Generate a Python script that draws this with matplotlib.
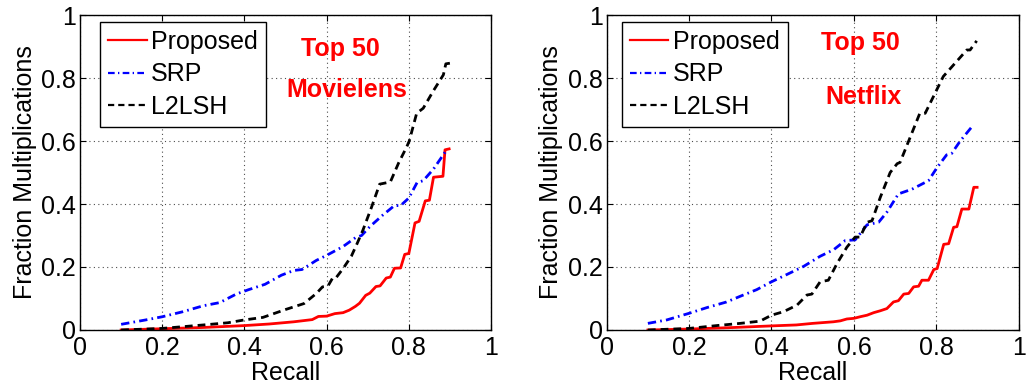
import matplotlib
matplotlib.use("Agg")
import matplotlib.pyplot as plt

plt.rcParams['font.family'] = ['Liberation Sans', 'DejaVu Sans']
plt.rcParams['font.size'] = 18

# ---- Movielens (Top 50) ----
ml_proposed_recall = [0.10, 0.20, 0.30, 0.40, 0.46, 0.52, 0.565, 0.58, 0.60, 0.62,
                      0.64, 0.655, 0.67, 0.68, 0.695, 0.705, 0.72, 0.73, 0.745, 0.755,
                      0.765, 0.78, 0.79, 0.80, 0.815, 0.825, 0.84, 0.85, 0.86, 0.875,
                      0.883, 0.888, 0.898]
ml_proposed_frac = [0.000, 0.004, 0.008, 0.014, 0.019, 0.026, 0.033, 0.043, 0.044, 0.052,
                    0.055, 0.063, 0.075, 0.085, 0.110, 0.117, 0.138, 0.140, 0.165, 0.168,
                    0.196, 0.197, 0.240, 0.243, 0.340, 0.345, 0.410, 0.412, 0.485, 0.487,
                    0.488, 0.572, 0.575]

ml_srp_recall = [0.10, 0.16, 0.20, 0.25, 0.30, 0.34, 0.38, 0.41, 0.45, 0.49, 0.52, 0.54,
                 0.575, 0.60, 0.64, 0.67, 0.685, 0.705, 0.735, 0.765, 0.78, 0.80, 0.82,
                 0.835, 0.86, 0.89]
ml_srp_frac = [0.018, 0.032, 0.042, 0.058, 0.077, 0.087, 0.114, 0.128, 0.145, 0.174, 0.189,
               0.192, 0.221, 0.237, 0.265, 0.293, 0.300, 0.328, 0.363, 0.395, 0.395, 0.419,
               0.468, 0.474, 0.511, 0.568]

ml_l2lsh_recall = [0.10, 0.20, 0.30, 0.36, 0.40, 0.445, 0.50, 0.545, 0.575, 0.59, 0.603,
                   0.615, 0.623, 0.64, 0.66, 0.674, 0.688, 0.709, 0.729, 0.755, 0.775,
                   0.795, 0.801, 0.819, 0.835, 0.86, 0.884, 0.89, 0.90]
ml_l2lsh_frac = [0.000, 0.005, 0.016, 0.023, 0.032, 0.040, 0.065, 0.084, 0.116, 0.137,
                 0.139, 0.166, 0.166, 0.195, 0.234, 0.274, 0.316, 0.389, 0.463, 0.470,
                 0.530, 0.582, 0.600, 0.688, 0.704, 0.760, 0.810, 0.845, 0.847]

# ---- Netflix (Top 50) ----
nf_proposed_recall = [0.10, 0.20, 0.31, 0.40, 0.46, 0.50, 0.55, 0.567, 0.583, 0.60,
                      0.615, 0.632, 0.648, 0.664, 0.68, 0.696, 0.708, 0.721, 0.733, 0.745,
                      0.757, 0.765, 0.781, 0.794, 0.802, 0.818, 0.830, 0.842, 0.850, 0.862,
                      0.879, 0.891, 0.899]
nf_proposed_frac = [0.000, 0.003, 0.008, 0.013, 0.016, 0.021, 0.026, 0.029, 0.035, 0.037,
                    0.042, 0.047, 0.055, 0.061, 0.068, 0.089, 0.093, 0.114, 0.116, 0.137,
                    0.139, 0.158, 0.158, 0.192, 0.195, 0.272, 0.274, 0.326, 0.328, 0.384,
                    0.384, 0.453, 0.453]

nf_srp_recall = [0.10, 0.146, 0.20, 0.243, 0.291, 0.324, 0.364, 0.40, 0.437, 0.478, 0.518,
                 0.551, 0.579, 0.603, 0.632, 0.66, 0.68, 0.708, 0.741, 0.781, 0.802, 0.825,
                 0.837, 0.858, 0.89]
nf_srp_frac = [0.021, 0.032, 0.053, 0.071, 0.089, 0.107, 0.128, 0.153, 0.176, 0.202, 0.234,
               0.255, 0.284, 0.286, 0.334, 0.342, 0.374, 0.432, 0.447, 0.474, 0.516, 0.556,
               0.560, 0.600, 0.651]

nf_l2lsh_recall = [0.10, 0.20, 0.267, 0.324, 0.372, 0.40, 0.429, 0.462, 0.486, 0.498,
                   0.518, 0.538, 0.559, 0.583, 0.603, 0.615, 0.632, 0.644, 0.664, 0.688,
                   0.705, 0.712, 0.760, 0.773, 0.817, 0.874, 0.882, 0.898]
nf_l2lsh_frac = [0.000, 0.005, 0.014, 0.021, 0.028, 0.047, 0.058, 0.079, 0.111, 0.114,
                 0.153, 0.158, 0.211, 0.263, 0.295, 0.295, 0.342, 0.347, 0.421, 0.500,
                 0.528, 0.532, 0.688, 0.688, 0.805, 0.889, 0.889, 0.918]

series_names = ["Proposed", "SRP", "L2LSH"]
tick_values = [0, 0.2, 0.4, 0.6, 0.8, 1]
tick_labels = ["0", "0.2", "0.4", "0.6", "0.8", "1"]

panels = [
    dict(rect=[0.078, 0.1495, 0.4006, 0.8118],
         data=[(ml_proposed_recall, ml_proposed_frac),
               (ml_srp_recall, ml_srp_frac),
               (ml_l2lsh_recall, ml_l2lsh_frac)],
         legend_anchor=(0.0487, 0.978),
         title_pos=[(0.633, 0.892), (0.649, 0.762)],
         titles=["Top 50", "Movielens"]),
    dict(rect=[0.5913, 0.1495, 0.4016, 0.8118],
         data=[(nf_proposed_recall, nf_proposed_frac),
               (nf_srp_recall, nf_srp_frac),
               (nf_l2lsh_recall, nf_l2lsh_frac)],
         legend_anchor=(0.0364, 0.978),
         title_pos=[(0.615, 0.910), (0.623, 0.741)],
         titles=["Top 50", "Netflix"]),
]

styles = [
    dict(color="#ff0000", linestyle="-", linewidth=2.0),
    dict(color="#0000ff", linestyle=(0, (3.0, 1.5, 0.6, 1.5)), linewidth=2.0),
    dict(color="#000000", linestyle=(0, (2.8, 1.8)), linewidth=2.0),
]

fig = plt.figure(figsize=(10.26, 3.88), dpi=100)

for panel in panels:
    ax = fig.add_axes(panel["rect"])
    for (rx, fy), name, st in zip(panel["data"], series_names, styles):
        ax.plot(rx, fy, label=name, **st)
    ax.set_xlim(0, 1)
    ax.set_ylim(0, 1)
    ax.set_xticks(tick_values)
    ax.set_xticklabels(tick_labels)
    ax.set_yticks(tick_values)
    ax.set_yticklabels(tick_labels)
    ax.tick_params(direction="in", top=True, right=True, length=4, width=0.8,
                   labelsize=18)
    ax.tick_params(axis="x", pad=4)
    ax.tick_params(axis="y", pad=3)
    ax.grid(True, linestyle=(0, (1, 3)), color="0.3", linewidth=0.8)
    for sp in ax.spines.values():
        sp.set_linewidth(1.0)
    ax.set_xlabel("Recall", fontsize=18, labelpad=1)
    ax.set_ylabel("Fraction Multiplications", fontsize=18, labelpad=3)
    leg = ax.legend(loc="upper left", bbox_to_anchor=panel["legend_anchor"],
                    fontsize=18, handlelength=1.55, handletextpad=0.18,
                    labelspacing=0.34, borderpad=0.32, borderaxespad=0.0,
                    fancybox=False, framealpha=1.0, edgecolor="black")
    leg.get_frame().set_linewidth(1.0)
    for h in leg.get_lines():
        h.set_linewidth(1.6)
    for (tx, ty), txt in zip(panel["title_pos"], panel["titles"]):
        ax.text(tx, ty, txt, color="#ff0000", fontweight="bold", fontsize=18,
                ha="center", va="center", transform=ax.transAxes)

fig.savefig("out.png", dpi=100)
